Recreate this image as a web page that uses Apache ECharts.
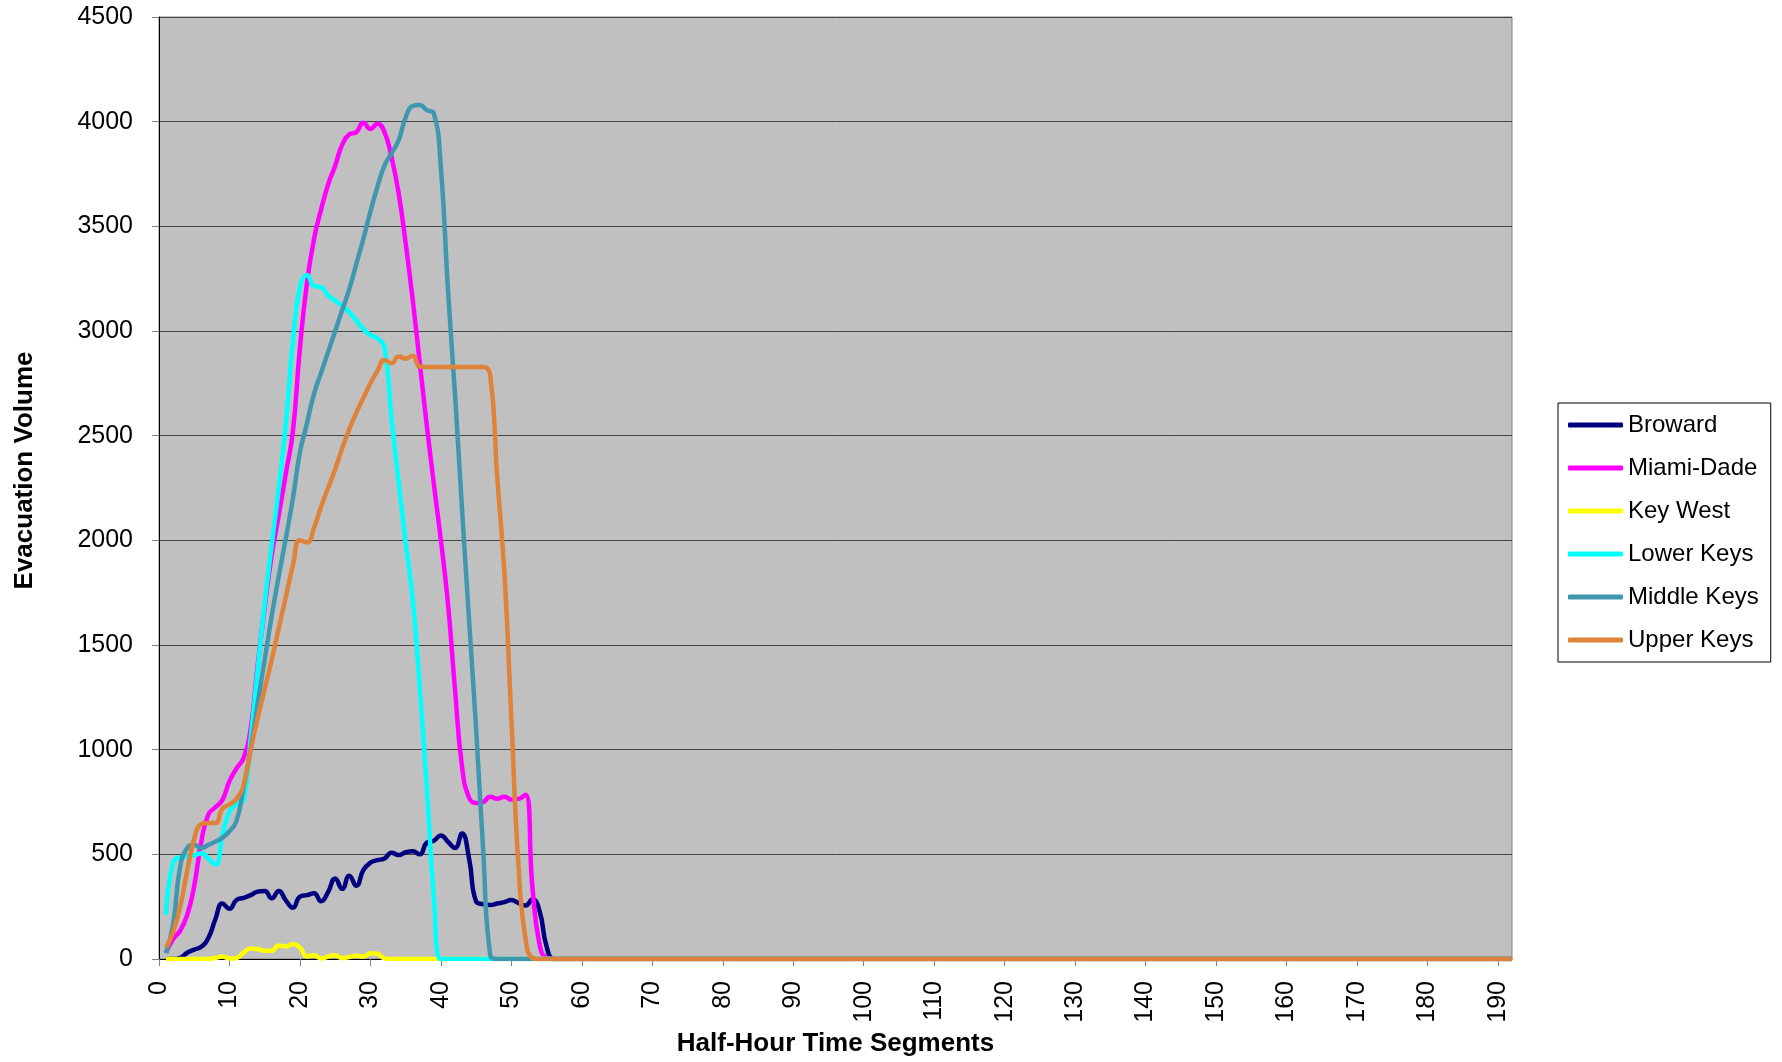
<!DOCTYPE html>
<html><head><meta charset="utf-8">
<script src="https://cdn.jsdelivr.net/npm/echarts@6/dist/echarts.min.js"></script>
<style>html,body{margin:0;padding:0;background:#fff}#c{width:1782px;height:1062px}</style>
</head><body><div id="c"></div>
<script>
const timeSegments = [1,2,3,4,5,6,7,8,9,10,11,12,13,14,15,16,17,18,19,20,21,22,23,24,25,26,27,28,29,30,31,32,33,34,35,36,37,38,39,40,41,42,43,44,45,46,47,48,49,50,51,52,53,54,55,56,57,192];

const broward    = [0,0,5,30,45,58,100,190,265,240, 282,292,305,322,325,290,325,280,245,298, 305,314,276,320,385,335,398,350,425,460, 472,480,508,497,510,515,500,555,565,590, 560,530,600,480,275,262,258,265,272,282, 268,255,285,230,60,0,0, 0];
const miamiDade  = [30,95,135,210,350,560,690,725,760,850, 910,960,1100,1400,1680,1930,2120,2320,2520,2920, 3230,3440,3580,3700,3790,3890,3940,3950,3995,3965, 3990,3950,3830,3660,3420,3150,2850,2550,2270,2000, 1700,1290,920,770,745,750,775,765,775,762, 765,785,340,70,5,0,0, 0];
const keyWest    = [0,0,0,0,0,0,0,5,12,2, 5,30,50,48,40,40,65,60,72,55, 12,18,2,12,18,4,10,15,11,28, 25,3,0,0,0,0,0,0,0,0, 0,0,0,0,0,0,0,0,0,0, 0,0,0,0,0,0,0, 0];
const lowerKeys  = [210,460,485,490,495,505,480,450,590,705, 740,760,1050,1380,1700,1980,2250,2560,2950,3210, 3268,3215,3210,3170,3145,3120,3090,3050,3010,2980, 2965,2920,2580,2280,1990,1720,1300,820,300,0, 0,0,0,0,0,0,0,0,0,0, 0,0,0,0,0,0,0, 0];
const middleKeys = [28,165,440,530,545,530,545,560,580,610, 660,820,1000,1220,1430,1640,1830,2010,2200,2420, 2560,2700,2800,2900,3000,3100,3200,3320,3440,3570, 3690,3790,3850,3910,4020,4075,4080,4055,4040,3780, 3200,2700,2150,1620,1100,520,20,0,0,0, 0,0,0,0,0,0,0, 0];
const upperKeys  = [55,130,250,420,575,645,650,650,718,738, 765,830,1000,1150,1290,1430,1580,1730,1880,2000, 1990,2060,2160,2250,2340,2440,2530,2610,2680,2750, 2810,2862,2846,2878,2868,2882,2830,2828,2828,2828, 2828,2828,2828,2828,2828,2828,2790,2300,1850,1150, 450,100,5,0,0,0,0, 0];

const seriesNames  = ['Broward','Miami-Dade','Key West','Lower Keys','Middle Keys','Upper Keys'];
const seriesValues = [broward, miamiDade, keyWest, lowerKeys, middleKeys, upperKeys];
const seriesColors = ['#000080','#FF00FF','#FFFF00','#00FFFF','#4097B0','#DE8339'];

const F = '"Liberation Sans", Arial, sans-serif';
const chart = echarts.init(document.getElementById('c'), null, {renderer:'canvas'});
chart.setOption({
  animation:false,
  backgroundColor:'#ffffff',
  grid:{left:159, top:17, right:270, bottom:103, show:true, backgroundColor:'#C0C0C0', borderColor:'#808080', borderWidth:1},
  xAxis:{
    type:'value', min:0, max:192, interval:10,
    name:'Half-Hour Time Segments', nameLocation:'middle', nameGap:71,
    nameTextStyle:{fontFamily:F, fontSize:26, fontWeight:'bold', color:'#000'},
    axisLine:{show:true, onZero:false, lineStyle:{color:'#000', width:1}},
    axisTick:{show:true, length:7, lineStyle:{color:'#808080'}},
    splitLine:{show:false},
    axisLabel:{rotate:90, fontFamily:F, fontSize:25, color:'#000', margin:22, showMaxLabel:false}
  },
  yAxis:{
    type:'value', min:0, max:4500, interval:500,
    name:'Evacuation Volume', nameLocation:'middle', nameGap:121,
    nameTextStyle:{fontFamily:F, fontSize:26, fontWeight:'bold', color:'#000', padding:[0,0,0,35]},
    axisLine:{show:true, lineStyle:{color:'#000', width:1}},
    axisTick:{show:true, length:7, lineStyle:{color:'#808080'}},
    splitLine:{show:true, lineStyle:{color:'#444444', width:1}},
    axisLabel:{fontFamily:F, fontSize:25, color:'#000', margin:26, formatter:v=>String(v)}
  },
  legend:{
    orient:'vertical', left:1558, top:403, padding:[8,12,8,10], itemGap:15,
    itemWidth:55, itemHeight:5, icon:'roundRect',
    borderColor:'#000', borderWidth:1, backgroundColor:'#fff',
    textStyle:{fontFamily:F, fontSize:24, color:'#000', lineHeight:28},
    data:seriesNames
  },
  series: seriesNames.map((n,i)=>({
    name:n, type:'line', smooth:0.5, symbol:'none',
    data: timeSegments.map((t,j)=>[t, seriesValues[i][j]]),
    lineStyle:{width:4.5, color:seriesColors[i]},
    itemStyle:{color:seriesColors[i]}
  }))
});
</script>
</body></html>
